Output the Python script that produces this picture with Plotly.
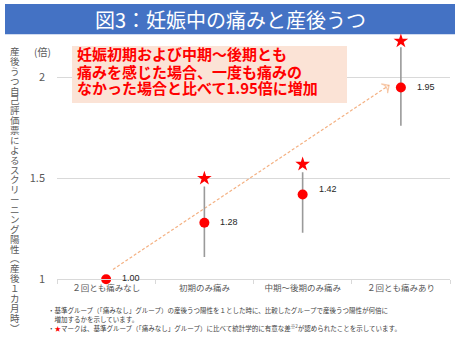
import plotly.graph_objects as go

# ---- data ----
categories = ["２回とも痛みなし", "初期のみ痛み", "中期～後期のみ痛み", "２回とも痛みあり"]
ratios = [1.00, 1.28, 1.42, 1.95]
ci_lower = [None, 1.11, 1.23, 1.76]
ci_upper = [None, 1.46, 1.53, 2.15]
significant = [False, True, True, True]
star_y = [None, 1.50, 1.57, 2.18]
y_ticks = [1, 1.5, 2]
y_ticklabels = ["1", "1.5", "2"]

title_text = "図3：妊娠中の痛みと産後うつ"
y_title = "産後うつ自己評価票によるスクリーニング陽性︵産後１カ月時︶"
callout_lines = ["妊娠初期および中期～後期とも",
                 "痛みを感じた場合、一度も痛みの",
                 "なかった場合と比べて1.95倍に増加"]
notes = [
    "・基準グループ（「痛みなし」グループ）の産後うつ陽性を１とした時に、比較したグループで産後うつ陽性が何倍に",
    "　増加するかを示しています。",
    "・<span style='color:#FF0000'>★</span>マークは、基準グループ（「痛みなし」グループ）に比べて統計学的に有意な差<sup>※2</sup>が認められたことを示しています。",
]

W, H = 460, 350
FONT = "Noto Sans CJK JP"
NUMFONT = "Liberation Sans"


def px(x):
    return x / W


def py(y):
    return 1 - y / H


xpos = list(range(len(categories)))
err_plus = [(u - v) if u is not None else 0 for u, v in zip(ci_upper, ratios)]
err_minus = [(v - l) if l is not None else 0 for l, v in zip(ci_lower, ratios)]

fig = go.Figure()

# dashed trend arrow (decoration)
arrow_x = [0.07, 2.88]
arrow_y = [1.049, 1.961]
fig.add_trace(go.Scatter(
    x=arrow_x, y=arrow_y, mode="lines+markers",
    line=dict(color="#F4B183", width=1.2, dash="3px,2px"),
    marker=dict(symbol="arrow-wide-open", size=[0, 8], color="#F4B183", angleref="previous",
                line=dict(width=1.2, color="#F4B183")),
    hoverinfo="skip", showlegend=False, cliponaxis=False,
))
# error bars
fig.add_trace(go.Scatter(
    x=xpos, y=ratios, mode="markers",
    marker=dict(size=10, color="red", opacity=0),
    error_y=dict(type="data", symmetric=False, array=err_plus, arrayminus=err_minus,
                 color="#9A9A9A", thickness=1.6, width=0),
    hoverinfo="skip", showlegend=False,
))
# points
fig.add_trace(go.Scatter(
    x=xpos, y=ratios, mode="markers",
    marker=dict(size=10, color="#FF0000", line=dict(width=0)),
    showlegend=False, cliponaxis=False,
))
# significance stars
sx = [x for x, s in zip(xpos, significant) if s]
sy = [y for y, s in zip(star_y, significant) if s]
fig.add_trace(go.Scatter(
    x=sx, y=sy, mode="markers",
    marker=dict(symbol="star", size=11, color="#FF0000", line=dict(width=0)),
    showlegend=False, cliponaxis=False,
))

annotations = []
# data labels
for i, (x, v) in enumerate(zip(xpos, ratios)):
    annotations.append(dict(
        x=x, y=v, xref="x", yref="y", text=f"{v:.2f}", showarrow=False,
        xanchor="left", yanchor="middle", xshift=14, yshift=(6 if i == 2 else 1),
        font=dict(family=NUMFONT, size=9, color="#262626"),
    ))

# title
annotations.append(dict(x=px(230), y=py(19.5), xref="paper", yref="paper",
                        text=title_text, showarrow=False, xanchor="center", yanchor="middle",
                        font=dict(family=FONT, size=20, color="white")))
# callout text
for line, yc in zip(callout_lines, [55, 72.5, 89.5]):
    annotations.append(dict(x=px(75), y=py(yc), xref="paper", yref="paper",
                            text=f"<b>{line}</b>", showarrow=False, xanchor="left", yanchor="middle",
                            font=dict(family=FONT, size=15, color="#FF0000")))
# unit label
annotations.append(dict(x=px(42), y=py(53), xref="paper", yref="paper", text="(倍)",
                        showarrow=False, xanchor="center", yanchor="middle",
                        font=dict(family=FONT, size=10, color="#595959")))
# vertical y title: one text block, one character per line
vtext = "<br>".join(f"<span style='font-size:9.5px'>{ch}</span>" for ch in y_title)
annotations.append(dict(x=px(15), y=py(193.5), xref="paper", yref="paper", text=vtext,
                        showarrow=False, xanchor="center", yanchor="middle", align="center",
                        font=dict(family=FONT, size=7.6, color="#595959")))
# footnotes
for line, yc in zip(notes, [316, 325.5, 334.5]):
    annotations.append(dict(x=px(46), y=py(yc), xref="paper", yref="paper", text=line,
                            showarrow=False, xanchor="left", yanchor="middle",
                            font=dict(family=FONT, size=6.5, color="#404040")))

shapes = [
    dict(type="rect", xref="paper", yref="paper", x0=px(5), x1=px(455), y0=py(35), y1=py(4),
         fillcolor="#4472C4", line=dict(width=0), layer="below"),
    dict(type="rect", xref="paper", yref="paper", x0=px(72), x1=px(347), y0=py(105), y1=py(47),
         fillcolor="#FBE3D6", line=dict(width=0), layer="above"),
]

fig.update_layout(
    width=W, height=H, margin=dict(l=0, r=0, t=0, b=0),
    paper_bgcolor="white", plot_bgcolor="white",
    font=dict(family=FONT, color="#595959"),
    showlegend=False,
    xaxis=dict(domain=[px(57), px(450)], range=[-0.5, 3.5],
               tickvals=xpos, ticktext=categories, ticks="",
               minor=dict(tickvals=[-0.5, 0.5, 1.5, 2.5, 3.5], ticks="outside", ticklen=4,
                          tickcolor="#D9D9D9", showgrid=False),
               showgrid=False, showline=True, linecolor="#D9D9D9", linewidth=1,
               tickfont=dict(family=FONT, size=8.5, color="#595959"), zeroline=False),
    yaxis=dict(domain=[py(285), py(37.8)], range=[1, 2.2], tickvals=y_ticks,
               ticktext=y_ticklabels, showgrid=True, gridcolor="#D9D9D9", gridwidth=1,
               zeroline=False, showline=False, ticks="", ticklabelstandoff=11,
               tickfont=dict(family=FONT, size=11, color="#595959")),
    annotations=annotations, shapes=shapes,
)

fig.write_html("out.html")
